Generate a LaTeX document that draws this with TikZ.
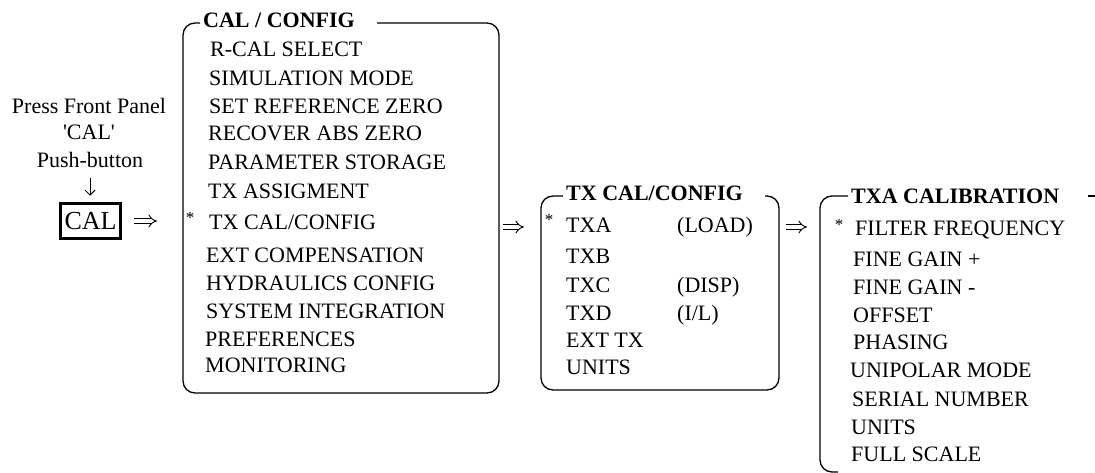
\documentclass[tikz,border=0pt]{standalone}
\usepackage{fontspec}
\setmainfont{Liberation Serif}
\usetikzlibrary{arrows.meta}
\begin{document}
\begin{tikzpicture}[x=1pt,y=-1pt,
  lbl/.style={inner sep=0pt, font=\fontsize{22}{24}\selectfont},
  entry/.style={anchor=west, inner sep=0pt, text height=14.6pt, text depth=0pt, font=\fontsize{22}{24}\selectfont},
  heading/.style={entry, font=\fontsize{22}{24}\selectfont\bfseries},
  starmark/.style={inner sep=0pt, font=\fontsize{17}{17}\selectfont},
  frame/.style={line width=1.3pt, rounded corners=12pt},
  implies/.style={double, double distance=3.6pt, line width=0.9pt, -{Implies}},
  downarrow/.style={line width=0.9pt, -{Straight Barb[length=5pt,width=10pt]}},
]
\useasboundingbox (0,0) rectangle (1095,473);

% --- front panel push-button ---
\node[lbl] (press) at (89,106) {Press Front Panel};
\node[lbl] (qcal)  at (89,132) {\textquotesingle CAL\textquotesingle};
\node[lbl, text depth=0pt] (push) at (90,160) {Push-button};
\node[draw, line width=3.5pt, inner sep=0pt, minimum width=60pt, minimum height=35pt,
      font=\fontsize{26}{26}\selectfont] (cal) at (90.5,221) {CAL};
\draw[downarrow, shorten <=10pt, shorten >=6pt] (push.south) -- (push.south |- cal.north);

% --- CAL / CONFIG menu ---
\node[heading] (t1) at (203,20) {CAL / CONFIG};
\draw[frame] (200,23) -- (183,23) -- (183,393) -- (499,393) -- (499,23) -- (377,23);
\coordinate (b1l) at (183,221);
\coordinate (b1r) at (499,227);
\foreach \name/\txt/\xx/\yy in {
  a1/{R-CAL SELECT}/210/49, a2/{SIMULATION MODE}/209/78, a3/{SET REFERENCE ZERO}/209/106,
  a4/{RECOVER ABS ZERO}/208/133, a5/{PARAMETER STORAGE}/208/162, a6/{TX ASSIGMENT}/208/191,
  a7/{TX CAL/CONFIG}/209/222, a8/{EXT COMPENSATION}/206/255, a9/{HYDRAULICS CONFIG}/206/283,
  a10/{SYSTEM INTEGRATION}/206/311, a11/{PREFERENCES}/205/339, a12/{MONITORING}/205/365}
  \node[entry] (\name) at (\xx,\yy) {\txt};
\node[starmark] (s1) at (190,218) {*};

% --- TX CAL/CONFIG menu ---
\node[heading] (t2) at (566,193) {TX CAL/CONFIG};
\draw[frame] (563,196) -- (541,196) -- (541,390) -- (779,390) -- (779,196) -- (765,196);
\coordinate (b2l) at (541,227);
\coordinate (b2r) at (779,227);
\foreach \name/\txt/\yy in {
  c1/TXA/225, c2/TXB/256, c3/TXC/285, c4/TXD/313, c5/{EXT TX}/340, c6/UNITS/367}
  \node[entry] (\name) at (566,\yy) {\txt};
\node[entry] (c1n) at (677,225) {(LOAD)};
\node[entry] (c3n) at (677,285) {(DISP)};
\node[entry] (c4n) at (677,313) {(I/L)};
\node[starmark] (s2) at (549,220) {*};

% --- TXA CALIBRATION menu ---
\node[heading] (t3) at (851,196) {TXA CALIBRATION};
\draw[frame] (848,196) -- (820,196) -- (820,472) -- (838,472);
\draw[line width=1.3pt] (1088,196) -- (1095,196);
\coordinate (b3l) at (820,227);
\foreach \name/\txt/\xx/\yy in {
  d1/{FILTER FREQUENCY}/855/228, d2/{FINE GAIN +}/853/259, d3/{FINE GAIN -}/853/287,
  d4/{OFFSET}/853/315, d5/{PHASING}/853/342, d6/{UNIPOLAR MODE}/850/370,
  d7/{SERIAL NUMBER}/852/399, d8/{UNITS}/851/427, d9/{FULL SCALE}/851/454}
  \node[entry] (\name) at (\xx,\yy) {\txt};
\node[starmark] (s3) at (839,225) {*};

% --- connectors between the menus ---
\draw[implies, shorten <=12pt, shorten >=26pt] (cal.east) -- (b1l);
\draw[implies, shorten <=4pt, shorten >=17pt] (b1r) -- (b2l);
\draw[implies, shorten <=7pt, shorten >=13pt] (b2r) -- (b3l);
\end{tikzpicture}
\end{document}
